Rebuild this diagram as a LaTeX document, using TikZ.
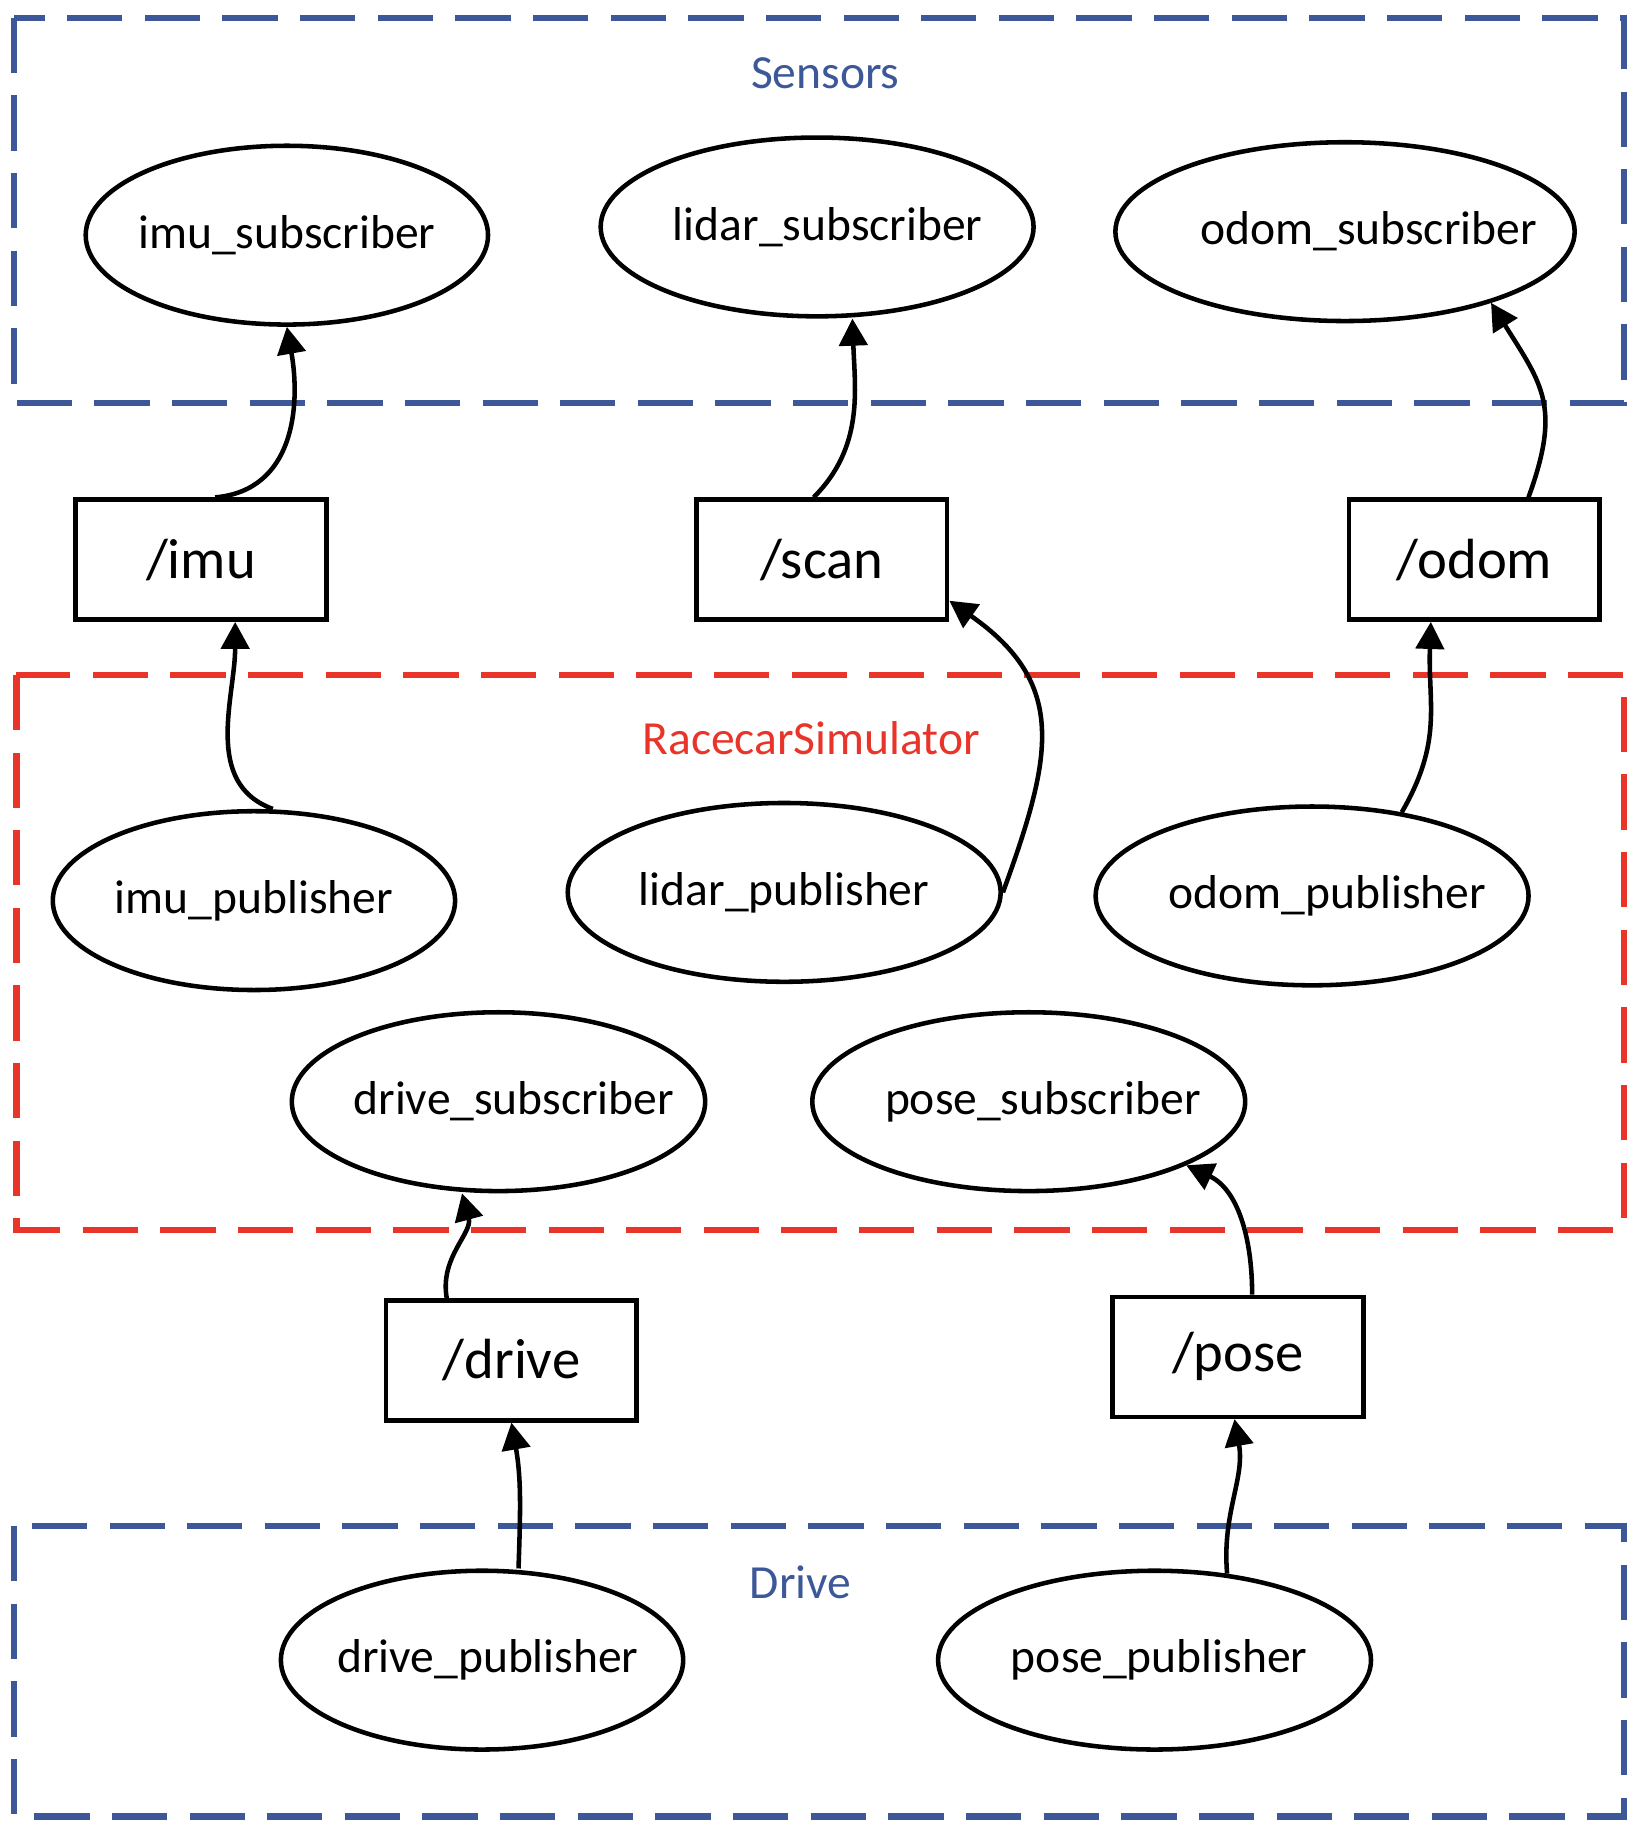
\documentclass[tikz,border=0pt]{standalone}
\usepackage{fontspec}
\setmainfont{Carlito}
\usetikzlibrary{shapes.geometric,arrows.meta}
\definecolor{groupblue}{RGB}{61,88,152}
\definecolor{groupred}{RGB}{233,52,41}

\begin{document}
\begin{tikzpicture}[x=0.01cm,y=0.01cm]
    \tikzstyle{proc}=[ellipse, draw=black, line width=1.1pt, minimum width=3.42cm, minimum height=1.52cm, inner xsep=-0.25cm, inner ysep=0pt, font=\fontsize{11.5}{14}\selectfont]
    \tikzstyle{wide}=[minimum width=3.68cm]
    \tikzstyle{topic}=[rectangle, draw=black, line width=1.1pt, minimum width=2.13cm, minimum height=1.02cm, inner sep=0pt, font=\fontsize{13.7}{16}\selectfont]
    \tikzstyle{connect}=[-{Triangle[length=2.3mm,width=2.4mm]}, line width=1.1pt]
    \tikzstyle{group}=[line width=1.5pt, dash pattern=on 0.47cm off 0.19cm]
    \tikzstyle{grouplabel}=[font=\fontsize{11.5}{14}\selectfont]

    \useasboundingbox (0,0) rectangle (1390,-1565);

    % groups
    \draw[group, groupblue] (12,-15) rectangle (1381,-343);
    \draw[group, groupred] (14,-574) rectangle (1381,-1046);
    \draw[group, groupblue] (12,-1298) rectangle (1381,-1545);
    \node[grouplabel, text=groupblue] (sensorslabel) at (702,-62) {Sensors};
    \node[grouplabel, text=groupred] (simlabel) at (690,-628) {RacecarSimulator};
    \node[grouplabel, text=groupblue] (drivelabel) at (681,-1346) {Drive};

      \node[proc] (imusub) at (244,-200) {imu\_subscriber};
      \node[proc, wide] (lidarsub) at (695,-193) {\hspace{0.18cm}lidar\_subscriber};
      \node[proc, wide] (odomsub) at (1144,-197) {\hspace{0.4cm}odom\_subscriber};
      \node[topic] (imu) at (171,-476) {/imu};
      \node[topic] (scan) at (699,-476) {/scan};
      \node[topic] (odom) at (1254,-476) {/odom};
      \node[proc] (imupub) at (216,-766) {imu\_publisher\hspace{0.12cm}};
      \node[proc, wide] (lidarpub) at (667,-759) {lidar\_publisher};
      \node[proc, wide] (odompub) at (1116,-762) {\hspace{0.26cm}odom\_publisher};
      \node[proc] (drivesub) at (424,-937) {\hspace{0.26cm}drive\_subscriber};
      \node[proc, wide] (posesub) at (875,-937) {\hspace{0.24cm}pose\_subscriber};
      \node[topic] (drive) at (435,-1157) {/drive};
      \node[topic] (pose) at (1053,-1154) {/pose};
      \node[proc] (drivepub) at (410,-1412) {\hspace{0.1cm}drive\_publisher};
      \node[proc, wide] (posepub) at (982,-1412) {\hspace{0.08cm}pose\_publisher};
      \path
        ([xshift=0.12cm]imu.north) edge [connect, out=5, in=-80, looseness=1.1] (imusub.south)
        ([xshift=0.16cm]imupub.north) edge [connect, out=160, in=-90] ([xshift=0.29cm]imu.south)
        ([xshift=-0.07cm]scan.north) edge [connect, out=45, in=-88] ([xshift=0.30cm]lidarsub.south)
        (lidarpub.east) edge [connect, out=70, in=-35, looseness=1.25] ([yshift=0.18cm]scan.south east)
        ([xshift=0.46cm]odom.north) edge [connect, out=70, in=-58, looseness=1.25] (odomsub.-26)
        (odompub.43) edge [connect, out=60, in=-92, looseness=1.1] ([xshift=-0.37cm]odom.south)
        ([xshift=-0.55cm]drive.north) edge [connect, out=100, in=-75] ([xshift=-0.31cm]drivesub.south)
        ([xshift=0.12cm]pose.north) edge [connect, out=90, in=-25] (posesub.-22)
        ([xshift=0.31cm]drivepub.north) edge [connect, out=88, in=-80] (drive.south)
        (posepub.50) edge [connect, out=95, in=-80] ([xshift=-0.03cm]pose.south);
    \end{tikzpicture}
\end{document}
